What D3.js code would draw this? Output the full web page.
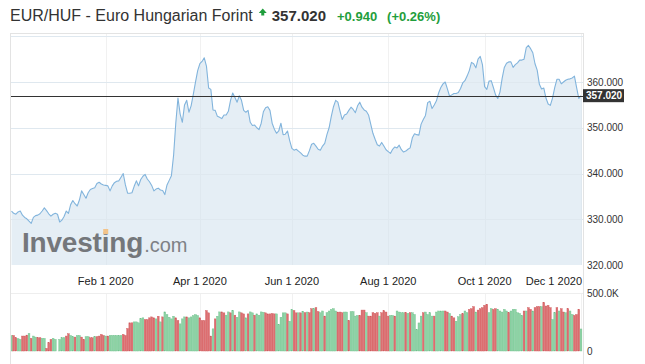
<!DOCTYPE html>
<html>
<head>
<meta charset="utf-8">
<script src="https://cdnjs.cloudflare.com/ajax/libs/d3/7.8.5/d3.min.js"></script>
<style>
body { margin: 0; background: #fff; }
svg { display: block; font-family: "Liberation Sans", Arial, sans-serif; }
</style>
</head>
<body>
<svg></svg>
<script>
// daily closes, one per trading day (Dec 2019 - Dec 2020)
var prices = [
  331.8, 331.3, 331.1, 331.6, 331.8, 330.9, 330.4, 330.1, 329.6, 329.1,
  330.4, 330.8, 330.9, 331.2, 331.8, 332.5, 331.9, 331.2, 330.7, 331.1,
  331.3, 331.1, 329.4, 329.8, 330.6, 331.8, 331.3, 333.2, 334.1, 333.4,
  332.9, 334.2, 336.2, 335.4, 334.6, 335.8, 336.5, 336.7, 336.9, 337.8,
  338.1, 337.7, 337.5, 337.4, 337.3, 336.2, 337.3, 338.0, 338.3, 338.4,
  339.2, 340.0, 337.5, 335.7, 335.7, 335.8, 337.2, 338.4, 337.3, 338.7,
  339.4, 339.8, 338.8, 338.2, 337.4, 336.2, 336.6, 336.8, 336.4, 336.3,
  335.4, 337.5, 338.5, 339.5, 344.0, 351.0, 356.5, 353.0, 351.2, 355.0,
  356.0, 353.4, 354.8, 357.3, 360.0, 362.5, 364.0, 364.5, 365.3, 363.5,
  358.7, 358.4, 353.9, 353.8, 352.5, 352.3, 352.0, 352.8, 352.8, 353.6,
  356.0, 357.6, 356.6, 355.6, 357.0, 356.0, 353.8, 353.4, 353.8, 351.2,
  350.5, 350.6, 350.0, 349.6, 351.0, 353.5, 354.4, 354.6, 353.8, 351.0,
  349.7, 348.8, 349.3, 351.0, 348.5, 348.6, 349.3, 347.2, 345.5, 345.1,
  345.3, 344.9, 344.5, 344.0, 343.8, 343.8, 345.0, 346.4, 346.6, 346.0,
  345.3, 345.1, 346.0, 346.6, 348.5, 350.0, 352.5, 354.6, 356.0, 355.6,
  353.6, 351.8, 352.8, 353.0, 353.8, 354.5, 354.0, 353.3, 354.8, 355.6,
  354.5, 353.9, 353.6, 352.8, 350.8, 348.8, 347.5, 346.3, 346.0, 346.8,
  346.0, 345.2, 344.8, 344.4, 345.3, 345.8, 345.6, 346.2, 345.2, 344.7,
  344.9, 345.3, 345.6, 347.8, 348.7, 348.5, 348.4, 350.8, 351.8, 352.7,
  355.5, 355.8, 354.2, 355.0, 355.9, 357.6, 358.8, 359.6, 360.0, 358.5,
  356.9, 357.2, 357.5, 357.5, 357.7, 358.6, 359.8, 360.3, 361.3, 362.5,
  364.3, 364.0, 363.1, 365.0, 365.6, 363.8, 359.0, 358.4, 360.2, 360.3,
  358.8, 357.2, 356.4, 357.8, 360.8, 363.2, 364.1, 364.4, 364.4, 363.2,
  363.8, 364.2, 364.8, 364.8, 365.0, 367.5, 368.0, 367.3, 366.4, 364.0,
  362.6, 359.5, 358.5, 358.7, 356.5, 355.2, 354.9, 356.5, 358.8, 360.6,
  360.6, 359.6, 360.0, 360.4, 360.6, 360.7, 360.9, 361.3, 358.8, 356.4,
  357.02
];

// volume in thousands
var volumes = [
  134, 134, 114, 106, 100, 129, 129, 137, 151, 109,
  129, 120, 114, 114, 109, 109, 23, 71, 100, 109,
  100, 0, 100, 114, 114, 129, 149, 134, 123, 120,
  134, 134, 120, 100, 123, 123, 114, 114, 123, 123,
  129, 143, 134, 129, 129, 134, 134, 134, 134, 134,
  134, 143, 134, 194, 243, 243, 251, 251, 243, 280,
  286, 271, 271, 286, 294, 286, 277, 300, 251, 294,
  337, 314, 291, 277, 300, 286, 263, 234, 277, 294,
  294, 286, 294, 306, 314, 306, 286, 263, 263, 349,
  329, 129, 191, 277, 300, 337, 337, 329, 309, 337,
  329, 349, 309, 291, 337, 329, 320, 286, 320, 337,
  329, 309, 320, 309, 337, 334, 329, 320, 320, 323,
  320, 320, 229, 291, 329, 329, 320, 257, 357, 349,
  329, 329, 329, 343, 330, 336, 330, 365, 365, 374,
  340, 330, 345, 301, 330, 345, 359, 365, 345, 336,
  336, 330, 336, 336, 263, 339, 339, 301, 307, 307,
  353, 353, 330, 301, 301, 330, 324, 330, 301, 330,
  347, 336, 301, 307, 307, 301, 345, 336, 330, 330,
  330, 324, 330, 330, 315, 184, 242, 301, 330, 336,
  315, 330, 301, 301, 336, 345, 345, 345, 345, 336,
  324, 301, 286, 257, 295, 315, 321, 345, 330, 359,
  365, 383, 336, 353, 365, 374, 394, 403, 330, 365,
  359, 365, 359, 345, 336, 359, 345, 330, 345, 359,
  359, 330, 324, 307, 345, 345, 374, 359, 345, 374,
  383, 383, 383, 418, 388, 394, 374, 272, 330, 374,
  345, 365, 336, 330, 365, 345, 315, 307, 315, 359,
  190
];

// G = up day, R = down day
var volDir = (
  "GRRGGRRRGR" + "GGRRGGRRRG" + "GGGGGRRGGR" + "GGRRGGRRGR" + "RRRGRGGGGG" +
  "GRRRRRGGGG" + "GRRRRRGRGR" + "GGGGGRRGGG" + "RGGGGGRRRR" + "RRGRGGRRGG" +
  "RGRGGRRGRG" + "GRGGGGRRRR" + "RGGGGGRGGR" + "RGRG" + "RGRRGRRGG" +
  "RGGGGGRRRG" + "GRGGGGRRRG" + "RRRRRGRRRR" + "GGRGGGGRGR" + "GGGGGRGGGG" +
  "RGGGGRRGRR" + "GGGRGGRRRG" + "RRRRRGGRRG" + "GGGGRGGGGG" + "GRGRRGRRRG" +
  "RRRRGGRGRR" + "GRGGRRRG"
).split("");

var tickIdx = [43, 86, 128, 172, 216, 260];
var tickLabels = ["Feb 1 2020", "Apr 1 2020", "Jun 1 2020", "Aug 1 2020", "Oct 1 2020", "Dec 1 2020"];
var priceTicks = [320, 330, 340, 350, 360];
var priceGrid = [330, 340, 350, 360, 370];
var volTicks = [0, 500];
var volTickLabels = ["0", "500.0K"];
var lastPrice = 357.020;
var change = "+0.940";
var changePct = "(+0.26%)";
var title = "EUR/HUF - Euro Hungarian Forint";

var W = 645, H = 364;
var plotLeft = 10, plotRight = 583, plotTop = 33, priceBottom = 265;
var volTop = 293, volBottom = 351;

var svg = d3.select("svg").attr("width", W).attr("height", H);

var x = d3.scaleLinear().domain([0, prices.length - 1]).range([11.5, 581]);
var y = d3.scaleLinear().domain([320, 370]).range([priceBottom, 36.3]);
var yv = d3.scaleLinear().domain([0, 500]).range([volBottom, volTop]);

svg.append("defs").append("clipPath").attr("id", "plot")
  .append("rect").attr("x", plotLeft).attr("y", plotTop)
  .attr("width", plotRight - plotLeft).attr("height", priceBottom - plotTop);

// grid
svg.append("g").selectAll("line").data(priceGrid).enter().append("line")
  .attr("x1", plotLeft).attr("x2", plotRight)
  .attr("y1", function(d) { return Math.round(y(d)) + 0.5; })
  .attr("y2", function(d) { return Math.round(y(d)) + 0.5; })
  .attr("stroke", "#f1f1f1");

svg.append("g").selectAll("line").data(tickIdx).enter().append("line")
  .attr("x1", function(d) { return Math.round(x(d)) + 0.5; })
  .attr("x2", function(d) { return Math.round(x(d)) + 0.5; })
  .attr("y1", plotTop).attr("y2", priceBottom)
  .attr("stroke", "#f1f1f1");

svg.append("g").selectAll("line").data(tickIdx).enter().append("line")
  .attr("x1", function(d) { return Math.round(x(d)) + 0.5; })
  .attr("x2", function(d) { return Math.round(x(d)) + 0.5; })
  .attr("y1", volTop).attr("y2", volBottom)
  .attr("stroke", "#f1f1f1");

svg.append("line")
  .attr("x1", plotLeft).attr("x2", plotRight)
  .attr("y1", yv(500) + 0.5).attr("y2", yv(500) + 0.5)
  .attr("stroke", "#eeeeee");

// price area + line
var area = d3.area()
  .x(function(d, i) { return x(i); })
  .y0(priceBottom)
  .y1(function(d) { return y(d); });

var line = d3.line()
  .x(function(d, i) { return x(i); })
  .y(function(d) { return y(d); });

var plot = svg.append("g").attr("clip-path", "url(#plot)");

plot.append("path")
  .datum(prices)
  .attr("fill", "#e4edf4")
  .attr("fill-opacity", 0.95)
  .attr("d", area);

// redraw the grid faintly over the area, like the original
plot.append("g").selectAll("line").data(priceGrid).enter().append("line")
  .attr("x1", plotLeft).attr("x2", plotRight)
  .attr("y1", function(d) { return Math.round(y(d)) + 0.5; })
  .attr("y2", function(d) { return Math.round(y(d)) + 0.5; })
  .attr("stroke", "#dfe8ef");

plot.append("g").selectAll("line").data(tickIdx).enter().append("line")
  .attr("x1", function(d) { return Math.round(x(d)) + 0.5; })
  .attr("x2", function(d) { return Math.round(x(d)) + 0.5; })
  .attr("y1", function(d) { return y(prices[d]) + 2; })
  .attr("y2", priceBottom)
  .attr("stroke", "#dfe8ef");

plot.append("path")
  .datum(prices)
  .attr("fill", "none")
  .attr("stroke", "#82b4dc")
  .attr("stroke-width", 1.1)
  .attr("stroke-linejoin", "round")
  .attr("d", line);

// watermark
var logo = svg.append("g");
var inv = logo.append("text")
  .attr("x", 22).attr("y", 252)
  .attr("font-size", 28).attr("font-weight", "bold")
  .attr("fill", "#74777b")
  .attr("letter-spacing", -0.2)
  .text("Investing");
var invEnd = 22 + inv.node().getComputedTextLength();
logo.append("text")
  .attr("x", invEnd + 1).attr("y", 252)
  .attr("font-size", 20)
  .attr("fill", "#7e8185")
  .text(".com");
var iPos = inv.node().getStartPositionOfChar(6);
logo.append("rect")
  .attr("x", iPos.x + 1.5).attr("y", 229)
  .attr("width", 5).attr("height", 5)
  .attr("fill", "#f2c38a");

// last price line
svg.append("line")
  .attr("x1", plotLeft).attr("x2", plotRight)
  .attr("y1", Math.round(y(lastPrice)) + 0.5).attr("y2", Math.round(y(lastPrice)) + 0.5)
  .attr("stroke", "#333").attr("stroke-width", 1);

// volume bars
var bw = 1.8;
svg.append("g").selectAll("rect").data(volumes).enter().append("rect")
  .attr("x", function(d, i) { return x(i) - bw / 2; })
  .attr("y", function(d) { return yv(d); })
  .attr("width", bw)
  .attr("height", function(d) { return volBottom - yv(d); })
  .attr("fill", function(d, i) { return volDir[i] == "G" ? "#8dd3a5" : "#dd6e70"; })
  .attr("stroke", function(d, i) { return volDir[i] == "G" ? "#6fc08c" : "#cf5a5d"; })
  .attr("stroke-width", 0.4);

// frame
svg.append("line").attr("x1", plotLeft + 0.5).attr("x2", plotLeft + 0.5).attr("y1", plotTop).attr("y2", H)
  .attr("stroke", "#e3e3e3");
svg.append("line").attr("x1", plotLeft).attr("x2", plotRight).attr("y1", plotTop + 0.5).attr("y2", plotTop + 0.5)
  .attr("stroke", "#e3e3e3");
svg.append("line").attr("x1", plotRight + 0.5).attr("x2", plotRight + 0.5).attr("y1", plotTop).attr("y2", H)
  .attr("stroke", "#e3e3e3");

// y axis labels
svg.append("g").selectAll("text").data(priceTicks).enter().append("text")
  .attr("x", 587)
  .attr("y", function(d) { return y(d); })
  .attr("dy", "0.35em")
  .attr("font-size", 10)
  .attr("fill", "#333")
  .text(function(d) { return d3.format(".3f")(d); });

svg.append("g").selectAll("text").data(volTicks).enter().append("text")
  .attr("x", 587)
  .attr("y", function(d) { return yv(d); })
  .attr("dy", "0.35em")
  .attr("font-size", 10)
  .attr("fill", "#333")
  .text(function(d, i) { return volTickLabels[i]; });

// last price tag
svg.append("rect")
  .attr("x", plotRight).attr("y", y(lastPrice) - 6.5)
  .attr("width", 41).attr("height", 13)
  .attr("fill", "#333");
svg.append("text")
  .attr("x", plotRight + 3).attr("y", y(lastPrice))
  .attr("dy", "0.35em")
  .attr("font-size", 10).attr("font-weight", "bold")
  .attr("fill", "#fff")
  .text(d3.format(".3f")(lastPrice));

// x axis labels
svg.append("g").selectAll("text").data(tickIdx).enter().append("text")
  .attr("x", function(d, i) { return i == tickIdx.length - 1 ? 582 : x(d); })
  .attr("y", 285)
  .attr("text-anchor", function(d, i) { return i == tickIdx.length - 1 ? "end" : "middle"; })
  .attr("font-size", 11)
  .attr("fill", "#222")
  .text(function(d, i) { return tickLabels[i]; });

// title
var t = svg.append("text")
  .attr("x", 10).attr("y", 20.5)
  .attr("font-size", 16)
  .attr("fill", "#333")
  .text(title);
var tEnd = 10 + t.node().getComputedTextLength();

svg.append("path")
  .attr("d", "M" + (tEnd + 6) + ",13 L" + (tEnd + 10) + ",8.5 L" + (tEnd + 14) + ",13 L" + (tEnd + 11.5) + ",13 L" + (tEnd + 11.5) + ",15.5 L" + (tEnd + 8.5) + ",15.5 L" + (tEnd + 8.5) + ",13 Z")
  .attr("fill", "#1f9e3c");

var p = svg.append("text")
  .attr("x", tEnd + 19).attr("y", 20.5)
  .attr("font-size", 15).attr("font-weight", "bold")
  .attr("fill", "#333")
  .text(d3.format(".3f")(lastPrice));
var pEnd = tEnd + 19 + p.node().getComputedTextLength();

var c = svg.append("text")
  .attr("x", pEnd + 11).attr("y", 20.5)
  .attr("font-size", 13).attr("font-weight", "bold")
  .attr("fill", "#1f9e3c")
  .text(change);
var cEnd = pEnd + 11 + c.node().getComputedTextLength();

svg.append("text")
  .attr("x", cEnd + 10).attr("y", 20.5)
  .attr("font-size", 13).attr("font-weight", "bold")
  .attr("fill", "#1f9e3c")
  .text(changePct);
</script>
</body>
</html>
